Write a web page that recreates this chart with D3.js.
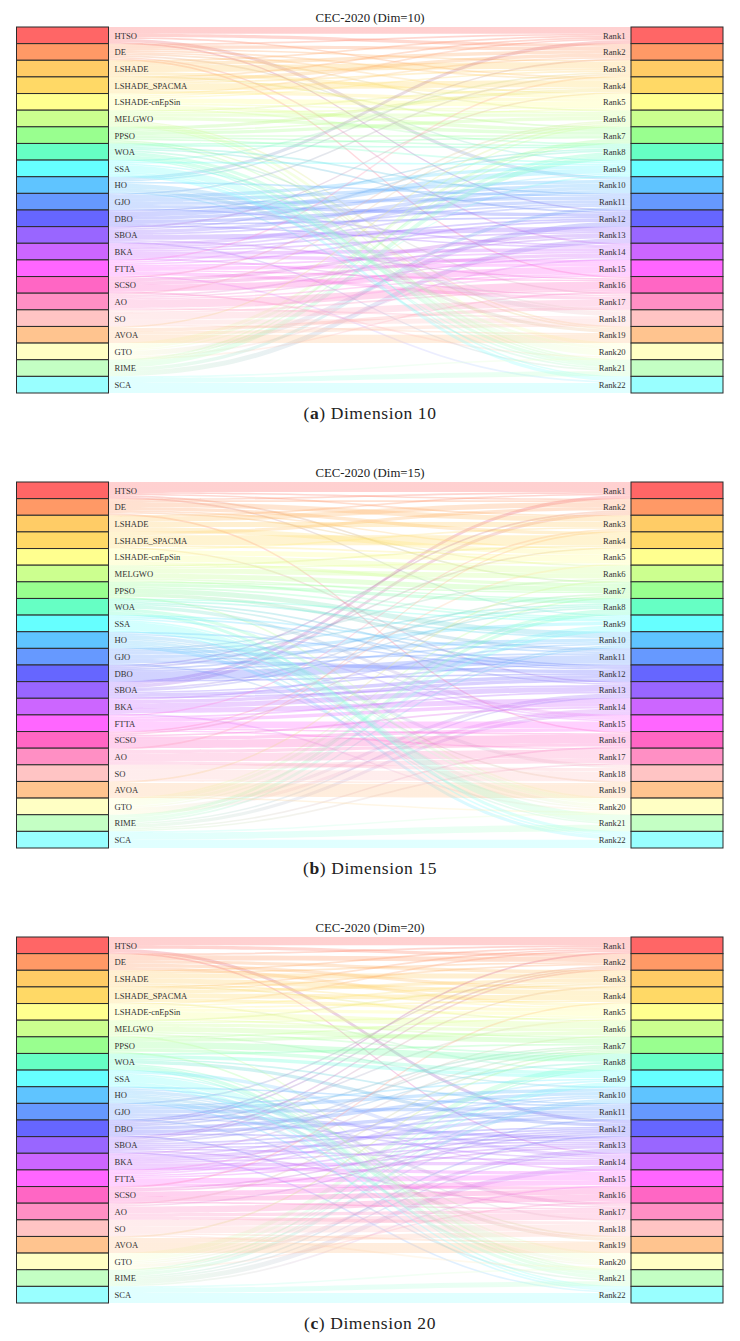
<!DOCTYPE html>
<html>
<head>
<meta charset="utf-8">
<script src="https://cdn.jsdelivr.net/npm/d3@7"></script>
<style>
  html, body { margin: 0; padding: 0; background: #fff; }
  svg { display: block; }
  text { font-family: "Liberation Serif", "Times New Roman", serif; }
</style>
</head>
<body>
<script>
// Algorithms in node order, each with a one-letter code used by the ranking tables.
const algorithms = ["HTSO", "DE", "LSHADE", "LSHADE_SPACMA", "LSHADE-cnEpSin", "MELGWO", "PPSO", "WOA",
  "SSA", "HO", "GJO", "DBO", "SBOA", "BKA", "FTTA", "SCSO", "AO", "SO", "AVOA", "GTO", "RIME", "SCA"];
const codes = "ABCDEFGHIJKLMNOPQRSTUV";
const rankLabels = d3.range(1, 23).map(i => "Rank" + i);
const nodeColors = ["#FF6666", "#FF9966", "#FFCC66", "#FFD966", "#FFFF8F", "#CCFF8F", "#99FF8F", "#66FFC4",
  "#66FFFF", "#5FC4FF", "#6699FF", "#6666FF", "#9966FF", "#CC66FF", "#FF66FF", "#FF66C4",
  "#FF8FC4", "#FFC4C4", "#FFC48F", "#FFFFC4", "#C4FFC4", "#99FFFF"];

// One string per benchmark function: the algorithms from best rank to worst.
const orderDim10 = [
  "ABCDEGFLTMKNUOPQRJSIHV", "AJCBDFEUKLNTMPOQRSGIVH", "JABDCEGTLKMOUNPQRISHFV", "ACKDBUEMGLHTNPQRSJFIVO",
  "BAIDCGTELNUKMQPORJSFHV", "ADCMEBFUOKLTPNRQHSJVGI", "DCOAEFTGLNUKMBPQSRJHIV", "EDCGFPUHKMLAQTNBORSIJV",
  "CEDFGQHTBAJLUKOMNRSPVI", "JBEGDSCUIAKHPLNTOQRFMV"
];
const orderDim15 = [
  "AMBDCEFKTGLJNUOPQRSHIV", "ALCDBEFTKUIMNOJPQRSGVH", "ACBDFEMLHTGNUPOQRJSKIV", "ADCBEKFMULGIOTHPRQSNVJ",
  "AMCDEBPTFGLKNUHOQRSJIV", "ACBLDETFUGKNMOPQRJSVIH", "MAODCFEUGKLHTNPBQRSIJV", "BCADPFEGTKMLHNOUQRJSIV",
  "CDQBEFAGKHLMTNOPURSJVI", "MBEFCSGUANLKDTIPOQRHVJ"
];
const orderDim20 = [
  "ABCDEFLTHKMNOUJPQRSIGV", "ACBDEGFUKLNMTIOPJQSRVH", "ABDCFEMGTLKONUPQRJSHIV", "ADBCLEFGUNKHTIPOQRSJVM",
  "ABCEDGHMTKLPUNOQRSJIFV", "LKCDBEOTGFNUMAPQJRSVHI", "BLMCDFEGOTHAPUNQRSJKIV", "CMDPBEQFGULAKNOTRSIJHV",
  "DAEBCNFGHOTQLKUPMRSIVJ", "EAFBGCSTDUJHKMNOPQRILV"
];

const panels = [
  { title: "CEC-2020 (Dim=10)", letter: "a", caption: "Dimension 10", orders: orderDim10, top: 27 },
  { title: "CEC-2020 (Dim=15)", letter: "b", caption: "Dimension 15", orders: orderDim15, top: 482 },
  { title: "CEC-2020 (Dim=20)", letter: "c", caption: "Dimension 20", orders: orderDim20, top: 937 }
];

const width = 740, height = 1341, panelHeight = 366;
const leftNode = [16.5, 108.5], rightNode = [631, 723];
const functionCount = orderDim10.length;

const svg = d3.select("body").append("svg").attr("width", width).attr("height", height);
const defs = svg.append("defs");

const yBand = d3.scaleBand().domain(d3.range(algorithms.length)).range([0, panelHeight]);
const flowHeight = d3.scaleLinear().domain([0, functionCount]).range([0, yBand.step()]);
const color = d3.scaleOrdinal().domain(d3.range(nodeColors.length)).range(nodeColors);

// Turns ranking strings into source→rank counts.
function buildLinks(orders) {
  const counts = d3.rollup(
    orders.flatMap(order => Array.from(order, (code, rank) => ({ source: codes.indexOf(code), rank }))),
    v => v.length, d => d.source, d => d.rank
  );
  const links = [];
  counts.forEach((byRank, source) => byRank.forEach((value, rank) => links.push({ source, rank, value })));

  // Stack links inside each node: by target on the left side, by source on the right side.
  const leftOffset = new Map(), rightOffset = new Map();
  d3.sort(links, d => d.source, d => d.rank).forEach(l => {
    const used = leftOffset.get(l.source) || 0;
    l.y0 = yBand(l.source) + flowHeight(used);
    leftOffset.set(l.source, used + l.value);
  });
  d3.sort(links, d => d.rank, d => d.source).forEach(l => {
    const used = rightOffset.get(l.rank) || 0;
    l.y1 = yBand(l.rank) + flowHeight(used);
    rightOffset.set(l.rank, used + l.value);
  });
  return links;
}

// Constant-thickness ribbon between two nodes.
function ribbon(l) {
  const x0 = leftNode[1], x1 = rightNode[0], xm = (x0 + x1) / 2, t = flowHeight(l.value);
  const p = d3.path();
  p.moveTo(x0, l.y0);
  p.bezierCurveTo(xm, l.y0, xm, l.y1, x1, l.y1);
  p.lineTo(x1, l.y1 + t);
  p.bezierCurveTo(xm, l.y1 + t, xm, l.y0 + t, x0, l.y0 + t);
  p.closePath();
  return p.toString();
}

panels.forEach((panel, pi) => {
  const g = svg.append("g").attr("transform", `translate(0,${panel.top})`);
  const links = buildLinks(panel.orders);

  links.forEach((l, i) => {
    const grad = defs.append("linearGradient")
      .attr("id", `flow-${pi}-${i}`)
      .attr("gradientUnits", "userSpaceOnUse")
      .attr("x1", leftNode[1]).attr("x2", rightNode[0])
      .attr("y1", 0).attr("y2", 0);
    grad.append("stop").attr("offset", "0%").attr("stop-color", color(l.source));
    grad.append("stop").attr("offset", "100%").attr("stop-color", color(l.rank));
  });

  g.append("g").selectAll("path").data(links).join("path")
    .attr("d", ribbon)
    .attr("fill", (d, i) => `url(#flow-${pi}-${i})`)
    .attr("fill-opacity", 0.3);

  // Node blocks on both sides.
  [[leftNode, "left"], [rightNode, "right"]].forEach(([xr, side]) => {
    g.append("g").attr("class", side).selectAll("rect").data(d3.range(algorithms.length)).join("rect")
      .attr("x", xr[0]).attr("y", d => yBand(d))
      .attr("width", xr[1] - xr[0]).attr("height", yBand.bandwidth())
      .attr("fill", d => color(d))
      .attr("stroke", "#2b2b2b").attr("stroke-width", 1);
  });

  g.append("g").selectAll("text").data(algorithms).join("text")
    .attr("x", leftNode[1] + 6)
    .attr("y", (d, i) => yBand(i) + yBand.bandwidth() / 2 + 3.4)
    .attr("font-size", 8.6).attr("fill", "#333")
    .text(d => d);

  g.append("g").selectAll("text").data(rankLabels).join("text")
    .attr("x", rightNode[0] - 5.5)
    .attr("y", (d, i) => yBand(i) + yBand.bandwidth() / 2 + 3.4)
    .attr("text-anchor", "end")
    .attr("font-size", 8.6).attr("fill", "#333")
    .text(d => d);

  g.append("text")
    .attr("x", 370).attr("y", -5)
    .attr("text-anchor", "middle")
    .attr("font-size", 12.8).attr("fill", "#222")
    .text(panel.title);

  const cap = g.append("text")
    .attr("x", 370).attr("y", panelHeight + 26)
    .attr("text-anchor", "middle")
    .attr("font-size", 17.5).attr("letter-spacing", 0.6).attr("fill", "#222");
  cap.append("tspan").text("(");
  cap.append("tspan").attr("font-weight", "bold").text(panel.letter);
  cap.append("tspan").text(") " + panel.caption);
});
</script>
</body>
</html>
